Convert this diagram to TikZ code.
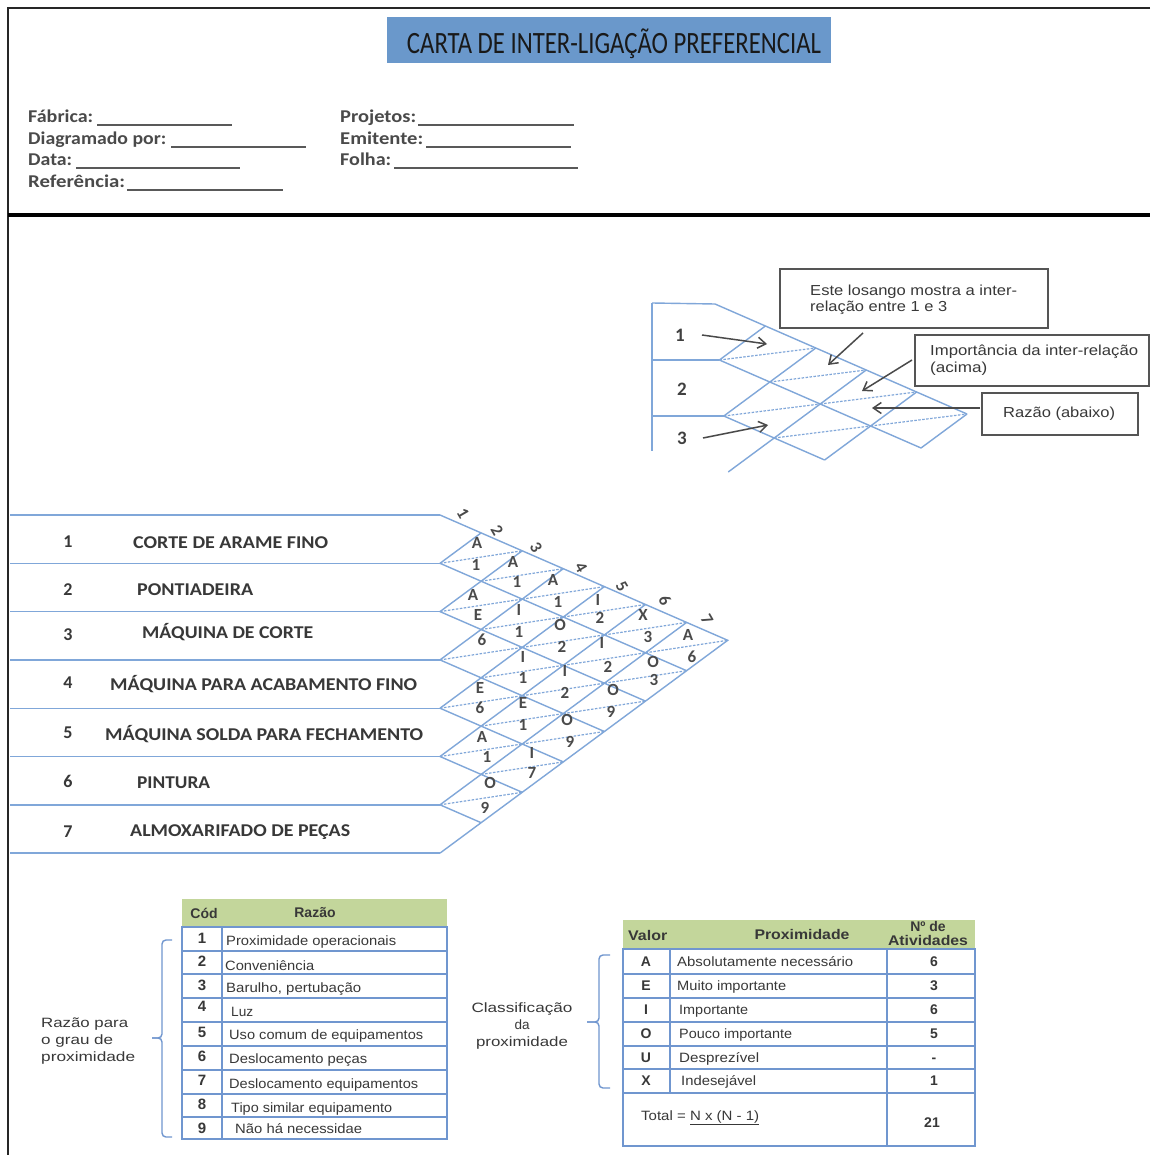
\documentclass[tikz,border=0pt]{standalone}
\usepackage{fontspec}
\setmainfont{Carlito}
\newfontfamily\arialf{Liberation Sans}
\usetikzlibrary{arrows.meta}
\newcommand{\fw}[2]{\resizebox{#1pt}{\height}{#2}}
\definecolor{chartblue}{HTML}{80A7D9}
\definecolor{txtgray}{HTML}{383838}
\definecolor{hdrgray}{HTML}{4A4A4A}
\definecolor{titleblue}{HTML}{6A98CB}
\definecolor{hdrgreen}{HTML}{C3D69B}
\definecolor{tblblue}{HTML}{7096CF}
\definecolor{arrowgray}{HTML}{4A4A4A}
\definecolor{boxgray}{HTML}{555555}
\begin{document}
\begin{tikzpicture}[x=1pt,y=-1pt,
  chart/.style={draw=chartblue,line width=1.4pt},
  dsh/.style={draw=chartblue,line width=1.2pt,dash pattern=on 2.5pt off 1.5pt},
  lbl/.style={inner sep=0pt,text=txtgray},
  hdr/.style={inner sep=0pt,text=hdrgray,font=\bfseries\fontsize{18}{20}\selectfont},
  rowname/.style={lbl,font=\bfseries\fontsize{18}{20}\selectfont},
  cell/.style={inner sep=0pt,text=hdrgray,font=\bfseries\fontsize{17}{18}\selectfont},
  tbl/.style={lbl,font=\arialf\fontsize{13.5}{15}\selectfont},
  tblb/.style={lbl,font=\arialf\bfseries\fontsize{14}{15}\selectfont},
  boxtxt/.style={lbl,font=\arialf\fontsize{14.5}{16}\selectfont},
  arr/.style={draw=arrowgray,line width=1.5pt,-{Straight Barb[length=8pt,width=11pt]}},
  brace/.style={draw=tblblue,line width=1.4pt,rounded corners=4pt},
  tline/.style={draw=tblblue,line width=1.3pt},
  expbox/.style={draw=boxgray,line width=2pt,fill=white,inner sep=0pt}
]
\useasboundingbox (0,0) rectangle (1150,1155);
\fill[white] (0,0) rectangle (1150,1155);

% ---------- frame ----------
\draw[line width=2.5pt,draw=black!85] (1150,8) -- (8,8) -- (8,1155);
\draw[line width=4pt,draw=black] (8,215) -- (1150,215);

% ---------- title ----------
\node[fill=titleblue,minimum width=444pt,minimum height=46pt,inner sep=0pt,anchor=north west] (titlebox) at (387,17) {};
\node[inner sep=0pt,anchor=base,text=black!90] (title) at (614,54) {\fw{414}{\fontsize{31}{31}\selectfont CARTA DE INTER-LIGAÇÃO PREFERENCIAL}};

% ---------- header fields ----------
\node[hdr,anchor=base west] (fab) at (28,123) {\fw{65}{Fábrica:}};
\node[hdr,anchor=base west] (dia) at (28,145) {\fw{138}{Diagramado por:}};
\node[hdr,anchor=base west] (dat) at (28,166) {\fw{44}{Data:}};
\node[hdr,anchor=base west] (ref) at (28,188) {\fw{97}{Referência:}};
\node[hdr,anchor=base west] (pro) at (340,123) {\fw{76}{Projetos:}};
\node[hdr,anchor=base west] (emi) at (340,145) {\fw{83}{Emitente:}};
\node[hdr,anchor=base west] (fol) at (340,166) {\fw{51}{Folha:}};
\foreach \xa/\xb/\yy in {97/232/125,171/306/147,76/240/168,127/283/190,418/574/125,426/571/147,394/578/168}
  \draw[line width=1.5pt,draw=black!65] (\xa,\yy) -- (\xb,\yy);

% ---------- example chart (upper right) ----------
\foreach \i in {0,...,3}
  \foreach \j in {\i,...,5}
    \coordinate (E-\i-\j) at ({715+50.4*\j-46*\i},{304+22*\j+34*\i});
\coordinate (exv1) at (652,303);
\coordinate (exv2) at (652,451);
\draw[chart] (exv1) -- (exv2);
\draw[chart] (exv1) -- (E-0-0) -- (E-0-5);
\draw[chart] (E-1-1 -| exv1) -- (E-1-1);
\draw[chart] (E-2-2 -| exv1) -- (E-2-2);
\draw[chart] (E-1-1) -- (E-0-1);
\draw[chart] (E-2-2) -- (E-0-2);
\draw[chart] (E-3-3) -- (E-0-3);
\draw[chart] (E-2-4) -- (E-0-4);
\draw[chart] (E-1-5) -- (E-0-5);
\draw[chart] (E-1-1) -- (E-1-5);
\draw[chart] (E-2-2) -- (E-2-4);
\foreach \i/\j/\ip/\jm in {1/2/0/1,1/3/0/2,1/4/0/3,1/5/0/4,2/3/1/2,2/4/1/3}
  \draw[dsh] (E-\i-\jm) -- (E-\ip-\j);
\foreach \n/\x/\y in {1/680/341,2/682/395,3/682/444}
  \node[lbl,anchor=base,font=\bfseries\fontsize{19}{20}\selectfont,text=black!75] (ex\n) at (\x,\y) {\n};

\node[expbox,minimum width=268pt,minimum height=59pt,anchor=north west] (este) at (779,268) {};
\node[boxtxt,anchor=base west] (este1) at (810,295) {\fw{207}{Este losango mostra a inter-}};
\node[boxtxt,anchor=base west] (este2) at (810,311) {\fw{137}{relação entre 1 e 3}};
\node[expbox,minimum width=234pt,minimum height=51pt,anchor=north west] (imp) at (914,334) {};
\node[boxtxt,anchor=base west] (imp1) at (930,355) {\fw{208}{Importância da inter-relação}};
\node[boxtxt,anchor=base west] (imp2) at (930,372) {\fw{57}{(acima)}};
\node[expbox,minimum width=156pt,minimum height=42pt,anchor=north west] (raz) at (981,392) {};
\node[boxtxt,anchor=base west] (raz1) at (1003,417) {\fw{112}{Razão (abaixo)}};

\coordinate (a1s) at (702,335); \coordinate (a1e) at (767,344);
\coordinate (a3s) at (703,438); \coordinate (a3e) at (768,425);
\coordinate (a4s) at (863,333); \coordinate (a4e) at (828,365);
\coordinate (a5s) at (912,360); \coordinate (a5e) at (862,391);
\coordinate (a6s) at (980,408); \coordinate (a6e) at (872,408);
\draw[arr] (a1s) -- (a1e);
\draw[arr] (a3s) -- (a3e);
\draw[arr] (a4s) -- (a4e);
\draw[arr] (a5s) -- (a5e);
\draw[arr] (a6s) -- (a6e);

% ---------- main chart ----------
\foreach \i in {0,...,7}
  \foreach \j in {\i,...,7}
    \coordinate (L-\i-\j) at ({440+41.1*(\j-\i)},{515+30.4*\i+17.9*\j});
\coordinate (rowstart) at (10,0);
\foreach \k in {0,...,7}
  \draw[chart] (L-\k-\k -| rowstart) -- (L-\k-\k);
\draw[chart] (L-0-0) -- (L-0-7) -- (L-7-7);
\foreach \k in {1,...,6}{
  \draw[chart] (L-\k-\k) -- (L-0-\k);
  \draw[chart] (L-\k-\k) -- (L-\k-7);
}
\foreach \i in {1,...,6}{
  \pgfmathtruncatemacro\jj{\i+1}
  \foreach \j in {\jj,...,7}{
    \pgfmathtruncatemacro\ip{\i-1}
    \pgfmathtruncatemacro\jm{\j-1}
    \draw[dsh] (L-\i-\jm) -- (L-\ip-\j);
  }
}
% column labels
\foreach \n/\x/\y in {1/463/513,2/497/530,3/536/547,4/581/567,5/622/586,6/665/600,7/707/619}
  \node[cell,rotate=-60] (col\n) at (\x,\y) {\n};
% row labels
\foreach \n/\yn/\x/\w/\yt/\nm in {
  1/547/133/195/548/CORTE DE ARAME FINO,
  2/595/137/116/595/PONTIADEIRA,
  3/640/142/171/638/MÁQUINA DE CORTE,
  4/688/110/307/690/MÁQUINA PARA ACABAMENTO FINO,
  5/738/105/318/740/MÁQUINA SOLDA PARA FECHAMENTO,
  6/787/137/73/788/PINTURA,
  7/837/130/220/836/ALMOXARIFADO DE PEÇAS}{
  \node[rowname,anchor=base] (rn\n) at (68,\yn) {\n};
  \node[rowname,anchor=base west] (rt\n) at (\x,\yt) {\fw{\w}{\nm}};
}
% cell contents
\foreach \n/\x/\y/\t in {12a/477/543/A,12b/476/565/1,13a/513/562/A,13b/517/582/1,
  14a/553/580/A,14b/558/602/1,15a/598/600/I,15b/600/618/2,16a/643/615/X,16b/648/637/3,
  17a/688/635/A,17b/692/657/6,23a/473/595/A,23b/478/615/E,34b/482/640/6,
  24a/519/610/I,24b/519/632/1,25a/560/625/O,25b/562/647/2,26a/602/643/I,26b/608/667/2,
  27a/653/662/O,27b/654/680/3,35a/523/657/I,35b/523/678/1,36a/565/671/I,36b/565/693/2,
  37a/613/690/O,37b/611/712/9,45a/480/688/E,45b/480/708/6,46a/523/703/E,46b/523/725/1,
  47a/567/720/O,47b/570/742/9,56a/482/737/A,56b/487/757/1,57a/532/753/I,57b/532/773/7,
  67a/490/783/O,67b/485/808/9}
  \node[cell] (c\n) at (\x,\y) {\t};

% ---------- table 1 ----------
\fill[hdrgreen] (182,899) rectangle (447,927);
\node[tblb] (t1h1) at (204,913) {Cód};
\node[tblb] (t1h2) at (315,913) {Razão};
\draw[tline] (182,927) rectangle (447,1139);
\draw[tline] (222,927) -- (222,1139);
\foreach \yy in {951,974,998,1022,1046,1070,1094,1117}
  \draw[tline] (182,\yy) -- (447,\yy);
\foreach \n/\yn/\x/\yt/\w/\t in {
  1/943/226/945/170/Proximidade operacionais,
  2/966/225/970/89/Conveniência,
  3/990/226/992/135/{Barulho, pertubação},
  4/1011/231/1016/22/Luz,
  5/1037/229/1039/194/Uso comum de equipamentos,
  6/1061/229/1063/138/Deslocamento peças,
  7/1085/229/1088/189/Deslocamento equipamentos,
  8/1109/231/1112/161/Tipo similar equipamento,
  9/1133/235/1133/127/Não há necessidae}{
  \node[tblb,anchor=base,font=\arialf\bfseries\fontsize{15}{16}\selectfont] (t1n\n) at (202,\yn) {\n};
  \node[tbl,anchor=base west] (t1t\n) at (\x,\yt) {\fw{\w}{\t}};
}
% brace 1 and label
\draw[brace] (172,940) -- (162,940) -- (162,1038) -- (152,1038);
\draw[brace] (152,1038) -- (162,1038) -- (162,1137) -- (172,1137);
\node[tbl,anchor=base west] (rz1) at (41,1027) {\fw{87}{Razão para}};
\node[tbl,anchor=base west] (rz2) at (41,1044) {\fw{72}{o grau de}};
\node[tbl,anchor=base west] (rz3) at (41,1061) {\fw{94}{proximidade}};

% ---------- table 2 ----------
\fill[hdrgreen] (623,920) rectangle (975,949);
\node[tblb,anchor=base west] (t2h1) at (628,940) {\fw{39}{Valor}};
\node[tblb,anchor=base] (t2h2) at (802,939) {\fw{95}{Proximidade}};
\node[tblb,anchor=base] (t2h3) at (928,931) {Nº de};
\node[tblb,anchor=base] (t2h4) at (928,945) {\fw{80}{Atividades}};
\draw[tline] (623,949) rectangle (975,1146);
\draw[tline] (670,949) -- (670,1093);
\draw[tline] (887,949) -- (887,1146);
\foreach \yy in {974,998,1022,1046,1069,1093}
  \draw[tline] (623,\yy) -- (975,\yy);
\foreach \n/\l/\x/\w/\t/\v in {
  1/A/677/176/Absolutamente necessário/6,
  2/E/677/109/Muito importante/3,
  3/I/679/69/Importante/6,
  4/O/679/113/Pouco importante/5,
  5/U/679/80/Desprezível/-,
  6/X/681/75/Indesejável/1}{
  \pgfmathsetmacro\yb{943+23.8*\n}
  \node[tblb,anchor=base] (t2l\n) at (646,\yb) {\l};
  \node[tbl,anchor=base west] (t2t\n) at (\x,\yb) {\fw{\w}{\t}};
  \node[tblb,anchor=base] (t2v\n) at (934,\yb) {\v};
}
\node[tbl,anchor=base west] (tot) at (641,1120) {\fw{118}{Total = \underline{N x (N - 1)}}};
\node[tblb,anchor=base] (tot2) at (932,1127) {21};
% brace 2 and label
\draw[brace] (610,955) -- (599,955) -- (599,1022) -- (587,1022);
\draw[brace] (587,1022) -- (599,1022) -- (599,1088) -- (610,1088);
\node[tbl,anchor=base] (cl1) at (522,1012) {\fw{101}{Classificação}};
\node[tbl,anchor=base] (cl2) at (522,1029) {da};
\node[tbl,anchor=base] (cl3) at (522,1046) {\fw{92}{proximidade}};
\end{tikzpicture}
\end{document}
